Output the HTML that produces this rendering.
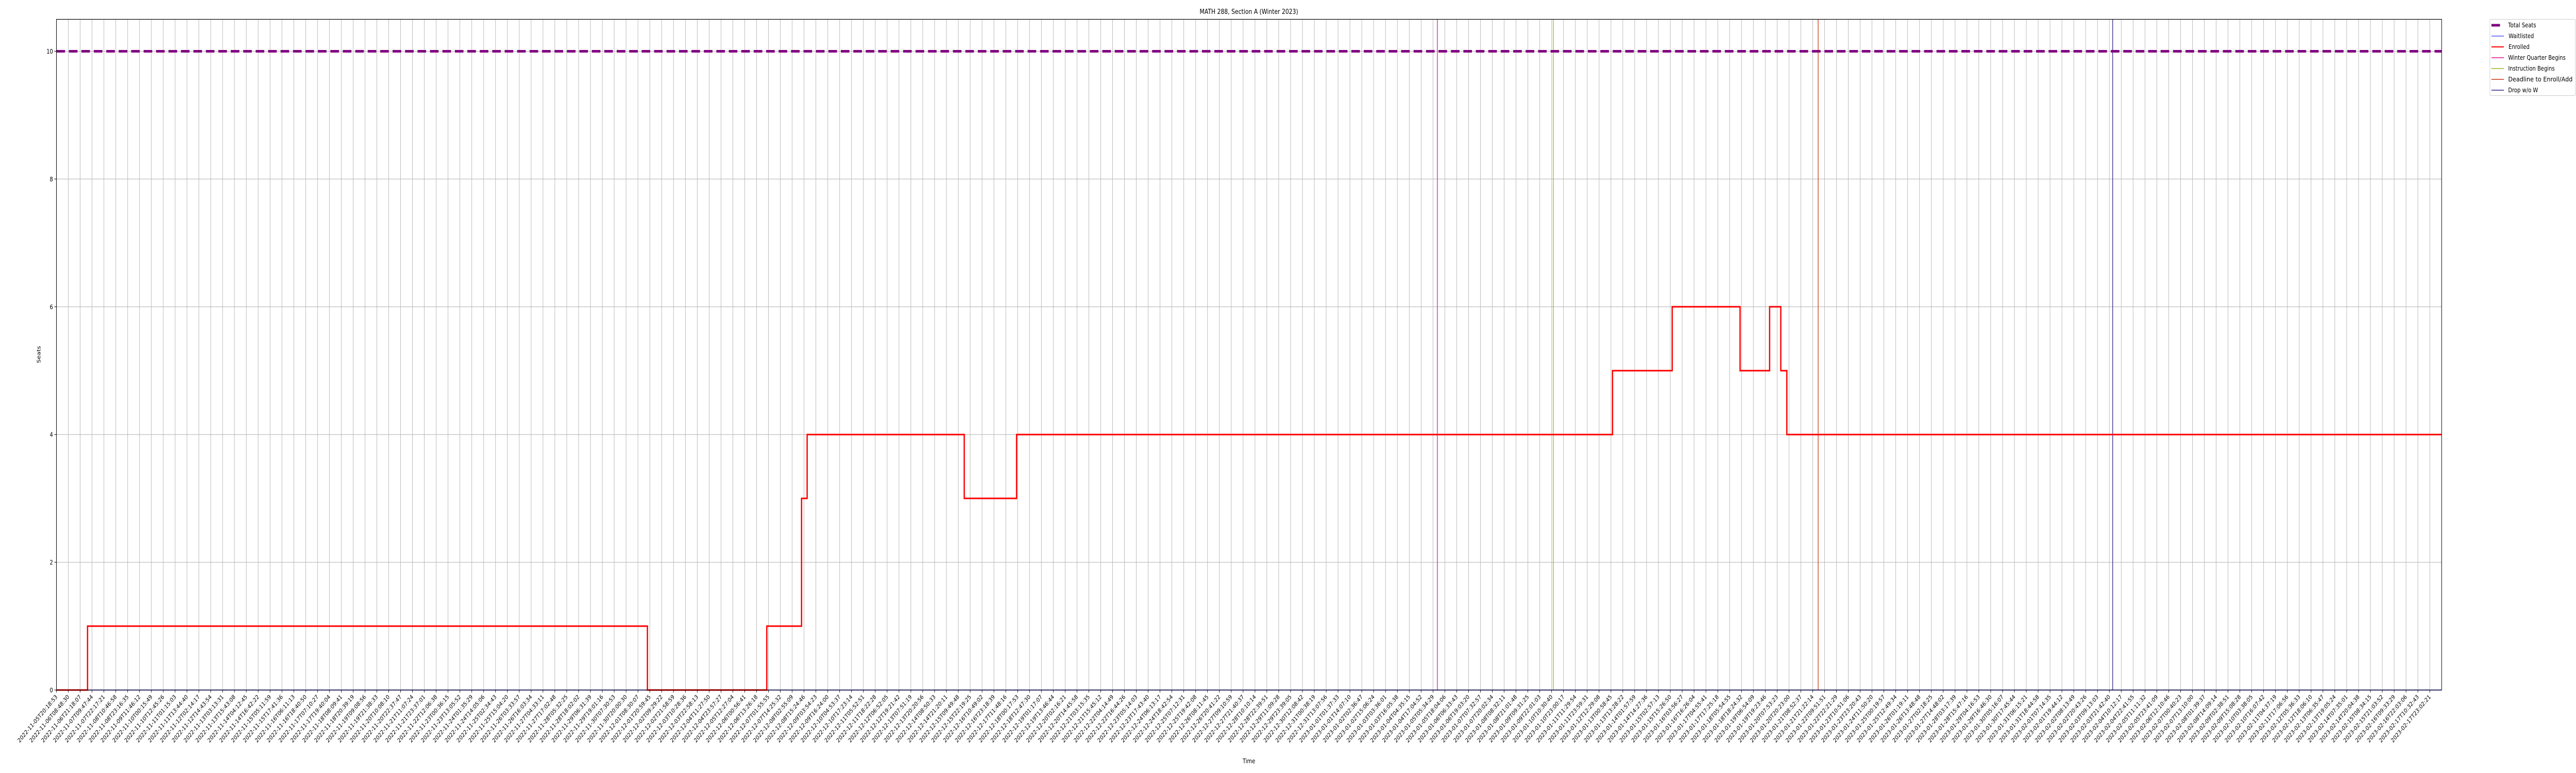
<!DOCTYPE html>
<html><head><meta charset="utf-8">
<meta name="viewport" content="width=6000">
<style>
html,body{margin:0;padding:0;background:#fff;width:100%;height:100%;overflow:hidden;}
svg{display:block;position:absolute;left:0;top:0;width:100vw;height:100vh;font-family:"DejaVu Sans","Liberation Sans",sans-serif;}
</style></head>
<body>
<svg id="chart" viewBox="0 0 6000 1500" preserveAspectRatio="none" xmlns="http://www.w3.org/2000/svg" overflow="hidden">
<rect width="6000" height="1500" fill="#fff"/>
<g id="grid"></g>
<g id="marks"></g>
<g id="axes"></g>
<text x="2909" y="27" font-size="13" text-anchor="middle">MATH 288, Section A (Winter 2023)</text>
<text x="2909" y="1481" font-size="12" text-anchor="middle">Time</text>
<text x="0" y="0" font-size="12" text-anchor="middle" transform="translate(94,688) rotate(-90)">Seats</text>
<g>
<rect x="5799.5" y="37.5" width="199" height="148" rx="2" fill="#fff" stroke="#ccc" stroke-width="1"/>
<g><line x1="5803" y1="49" x2="5823" y2="49" stroke="#800080" stroke-width="5"/><text x="5842" y="53" font-size="12">Total Seats</text></g>
<g><line x1="5803" y1="70" x2="5832" y2="70" stroke="#0000ff" stroke-width="1"/><text x="5843" y="74" font-size="12">Waitlisted</text></g>
<g><line x1="5803" y1="91" x2="5832" y2="91" stroke="#ff0000" stroke-width="2"/><text x="5843" y="95" font-size="12">Enrolled</text></g>
<g><line x1="5803" y1="112" x2="5832" y2="112" stroke="#e20e9c" stroke-width="1.5"/><text x="5842" y="116" font-size="12">Winter Quarter Begins</text></g>
<g><line x1="5803" y1="133" x2="5832" y2="133" stroke="#99b41c" stroke-width="1.5"/><text x="5842" y="137" font-size="12">Instruction Begins</text></g>
<g><line x1="5803" y1="154" x2="5832" y2="154" stroke="#cc3311" stroke-width="1.5"/><text x="5842" y="158" font-size="12" textLength="150" lengthAdjust="spacingAndGlyphs">Deadline to Enroll/Add</text></g>
<g><line x1="5803" y1="175" x2="5832" y2="175" stroke="#332288" stroke-width="1.5"/><text x="5842" y="179" font-size="12">Drop w/o W</text></g>
</g>
</svg>
<script>
// ---- data ----
const enrolledTimes = [0, 2.62, 49.8, 59.86, 62.79, 63.26, 76.5, 80.91, 131.13, 136.16, 141.88, 144.37, 145.31, 145.82, 201];
const enrolledValues = [0, 1, 0, 1, 3, 4, 3, 4, 5, 6, 5, 6, 5, 4, 4];
const waitlistTimes = [0, 201];
const waitlistValues = [0, 0];
const totalSeats = [10, 10];
const eventNames = ["winter-quarter-begins", "instruction-begins", "deadline-enroll-add", "drop-without-w"];
const eventTimes = [116.37, 126.14, 148.46, 173.28];
const eventColors = ["#e20e9c", "#99b41c", "#cc3311", "#332288"];
const yTicks = [0, 2, 4, 6, 8, 10];
const startMs = Date.UTC(2022, 10, 5, 20, 18, 53);
const endMs = Date.UTC(2023, 1, 17, 23, 2, 21);
const xTickLabels = [];
for (let i = 0; i <= 200; i++) {
  const d = new Date(startMs + (endMs - startMs) * i / 200);
  xTickLabels.push(d.toISOString().slice(0, 19));
}
// ---- axes ----
const L = 131.5, R = 5687, T = 37.5, B = 1339;
const XMAX = 201, YMAX = 10.5;
const xs = v => L + (R - L) * v / XMAX;
const ys = v => B - (B - T) * v / YMAX;
const NS = "http://www.w3.org/2000/svg";
function mk(tag, attrs, parent) {
  const e = document.createElementNS(NS, tag);
  for (const k in attrs) e.setAttribute(k, attrs[k]);
  parent.appendChild(e);
  return e;
}
const grid = document.getElementById('grid');
const marks = document.getElementById('marks');
const axes = document.getElementById('axes');
xTickLabels.forEach((lab, i) => {
  const x = xs(i);
  const g = mk('line', {x1: x, y1: T, x2: x, y2: B, stroke: '#b0b0b0', 'stroke-width': 1}, grid);
  
  
  const t = mk('line', {x1: x, y1: B, x2: x, y2: B + 5, stroke: '#000', 'stroke-width': 1}, axes);
  
  
  const tx = mk('text', {x: 0, y: 0, 'font-size': 11.5, 'text-anchor': 'end', transform: `translate(${x + 3},${B + 14}) rotate(-45)`}, axes);
  tx.textContent = lab;
  
  
});
yTicks.forEach(v => {
  const y = ys(v);
  const g = mk('line', {x1: L, y1: y, x2: R, y2: y, stroke: '#b0b0b0', 'stroke-width': 1}, grid);
  
  
  const t = mk('line', {x1: L - 5, y1: y, x2: L, y2: y, stroke: '#000', 'stroke-width': 1}, axes);
  
  
  const tx = mk('text', {x: L - 8, y: y + 4.5, 'font-size': 12, 'text-anchor': 'end'}, axes);
  tx.textContent = String(v);
  
  
});
const frame = mk('rect', {x: L, y: T, width: R - L, height: B - T, fill: 'none', stroke: '#000', 'stroke-width': 1.2}, axes);


// ---- marks ----
function stepPath(ts, vs) {
  let d = `M${xs(ts[0])},${ys(vs[0])}`;
  for (let i = 1; i < ts.length; i++) {
    d += ` L${xs(ts[i])},${ys(vs[i - 1])} L${xs(ts[i])},${ys(vs[i])}`;
  }
  return d;
}
eventTimes.forEach((t, i) => {
  const l = mk('line', {x1: xs(t), y1: T, x2: xs(t), y2: B, stroke: eventColors[i], 'stroke-width': 1.5}, marks);
  
  
});
const ts = mk('line', {x1: xs(0), y1: ys(totalSeats[0]), x2: xs(XMAX), y2: ys(totalSeats[1]), stroke: '#800080', 'stroke-width': 5, 'stroke-dasharray': '20 9'}, marks);


const wl = mk('path', {d: stepPath(waitlistTimes, waitlistValues), fill: 'none', stroke: '#0000ff', 'stroke-width': 1.5}, marks);


const en = mk('path', {d: stepPath(enrolledTimes, enrolledValues), fill: 'none', stroke: '#ff0000', 'stroke-width': 3}, marks);


</script>
</body></html>
